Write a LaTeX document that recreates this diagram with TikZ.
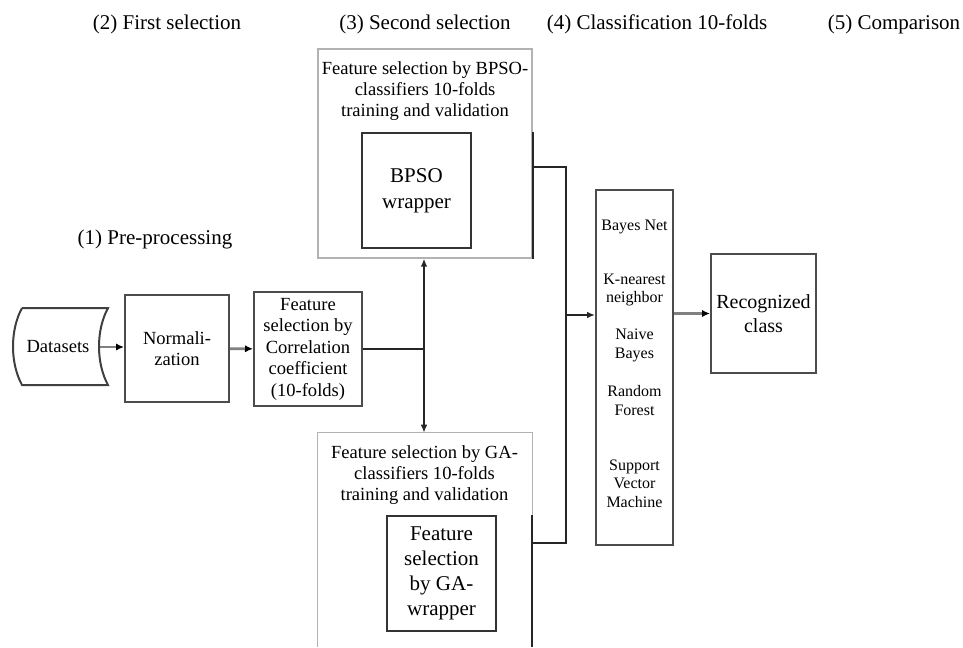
\documentclass[tikz,border=0pt]{standalone}
\usepackage{fontspec}
\setmainfont{Liberation Serif}
\usetikzlibrary{arrows.meta}

\begin{document}
\begin{tikzpicture}[x=0.75pt,y=-0.75pt,
  box/.style={draw=black!70,line width=1.5pt,align=center,inner sep=0pt,
    font=\fontsize{13.9}{16.1}\selectfont},
  inbox/.style={draw=black!80,line width=1.5pt,align=center,inner sep=0pt,
    font=\fontsize{15.75}{19.5}\selectfont},
  outer/.style={draw=black!30,line width=1pt},
  txt/.style={align=center,inner sep=0pt,font=\fontsize{13.9}{15.75}\selectfont},
  title/.style={anchor=base,inner sep=0pt,font=\fontsize{15.75}{18}\selectfont},
  clf/.style={align=center,inner sep=0pt,font=\fontsize{12}{13.9}\selectfont},
  flow/.style={draw=black!50,line width=2pt,-{Latex[length=6pt,width=5.5pt,color=black]}},
  link/.style={draw=black!85,line width=1.4pt},
  tip/.style={-{Latex[length=6pt,width=5pt]}}
]
\useasboundingbox (0,0) rectangle (963,647);

% stage titles
\node[title] (t1) at (155,244) {(1) Pre-processing};
\node[title] (t2) at (167,29) {(2) First selection};
\node[title] (t3) at (425,29) {(3) Second selection};
\node[title] (t4) at (657,29) {(4) Classification 10-folds};
\node[title] (t5) at (894,29) {(5) Comparison};

% pre-processing and first selection
\draw[black!75,line width=1.5pt] (22,308) -- (108,308)
  .. controls (96,330) and (96,363) .. (108,385) -- (22,385)
  .. controls (10,363) and (10,330) .. (22,308);
\node[txt] (data) at (58,347) {Datasets};
\coordinate (dataR) at (100,347);
\node[box,minimum width=78pt,minimum height=80.25pt] (norm) at (177,348.5) {Normali-\\zation};
\node[box,minimum width=81pt,minimum height=85.5pt] (corr) at (308,349)
  {Feature\\selection by\\Correlation\\coefficient\\(10-folds)};

% second selection
\node[outer,minimum width=160.5pt,minimum height=156.75pt] (bpsoOuter) at (425,153.5) {};
\node[txt] (bpsoTxt) at (425,91) {Feature selection by BPSO-\\classifiers 10-folds\\training and validation};
\node[inbox,minimum width=81.75pt,minimum height=86.25pt] (bpso) at (416.5,190.5) {BPSO\\wrapper};

\node[minimum width=160.5pt,minimum height=160.5pt] (gaOuter) at (425,540) {};
\draw[outer] (gaOuter.south west) |- (gaOuter.north east) -- (gaOuter.south east);
\node[txt] (gaTxt) at (424.5,475) {Feature selection by GA-\\classifiers 10-folds\\training and validation};
\node[inbox,minimum width=81.75pt,minimum height=86.25pt,font=\fontsize{15.75}{18.75}\selectfont]
  (ga) at (441.5,573.5) {Feature\\selection\\by GA-\\wrapper};
\draw[link] (bpsoOuter.east |- bpso.north) -- (bpsoOuter.south east);
\draw[link] (gaOuter.east |- ga.north) -- (gaOuter.south east);

% classification and comparison
\node[box,minimum width=57.75pt,minimum height=266.25pt] (clfBox) at (634.5,367.5) {};
\node[clf] (bn) at (634.5,227) {Bayes Net};
\node[clf] (knn) at (634.5,290) {K-nearest\\neighbor};
\node[clf] (nb) at (634.5,345.5) {Naive\\Bayes};
\node[clf] (rf) at (634.5,400.5) {Random\\Forest};
\node[clf] (svm) at (634.5,483.5) {Support\\Vector\\Machine};
\node[box,minimum width=78.75pt,minimum height=89.25pt,font=\fontsize{15}{18}\selectfont]
  (rec) at (763.5,313.5) {Recognized\\class};

% connectors
\draw[flow] (dataR) -- (dataR -| norm.west);
\draw[flow] (norm) -- (corr);
\coordinate (split) at (424,349);
\draw[link] (corr.east |- split) -- (split);
\draw[link,tip] (split) -- (split |- bpsoOuter.south);
\draw[link,tip] (split) -- (split |- gaOuter.north);
\coordinate (bpsoOut) at (532,167);
\coordinate (gaOut) at (532,543);
\coordinate (merge) at (566,315);
\draw[link] (bpsoOut) -| (merge) |- (gaOut);
\draw[link,tip] (merge) -- (merge -| clfBox.west);
\draw[flow] (clfBox.east |- rec) -- (rec.west);
\end{tikzpicture}
\end{document}
